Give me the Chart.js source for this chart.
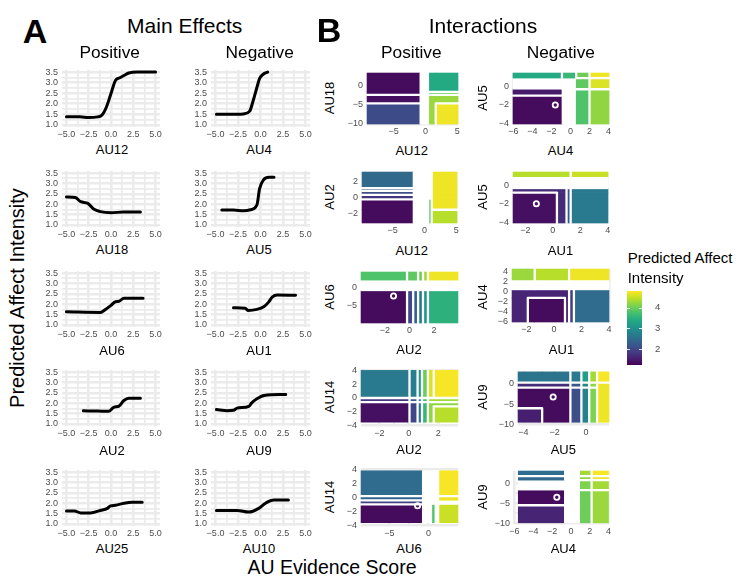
<!DOCTYPE html>
<html>
<head>
<meta charset="utf-8">
<script src="https://cdn.jsdelivr.net/npm/chart.js@4.4.1/dist/chart.umd.min.js"></script>
<style>
  body { margin:0; background:#fff; width:740px; height:584px; position:relative; overflow:hidden;
         font-family:"Liberation Sans", Arial, sans-serif; }
  canvas { position:absolute; }
  .t { position:absolute; transform:translate(-50%,-50%); white-space:nowrap; line-height:1; color:#000; }
  .t.rot { transform:translate(-50%,-50%) rotate(-90deg); }
  .t.left { transform:translate(0,-50%); }
</style>
</head>
<body>
<script>
'use strict';

/* ── Main effects: AU evidence score -> predicted intensity ─────── */
const AU12_X = [-5, -3.5, -2.5, -1.5, -1, -0.5, 0, 0.5, 1, 1.5, 2, 3, 5];
const AU12_Y = [1.38, 1.38, 1.35, 1.38, 1.47, 1.86, 2.49, 3.1, 3.23, 3.35, 3.46, 3.5, 3.5];
const AU4_X  = [-4.9, -2.6, -1.9, -1.2, -0.8, -0.4, -0.1, 0.3, 0.8];
const AU4_Y  = [1.5, 1.5, 1.52, 1.65, 2.17, 2.77, 3.2, 3.4, 3.5];
const AU18_X = [-5, -4, -3.4, -2.6, -1.9, -1.2, 0, 1.4, 3.3];
const AU18_Y = [2.35, 2.32, 2.12, 2.04, 1.75, 1.64, 1.59, 1.62, 1.62];
const AU5_X  = [-4.3, -3, -1.9, -1.1, -0.4, -0.1, 0.37, 0.93, 1.5];
const AU5_Y  = [1.72, 1.72, 1.68, 1.73, 1.96, 2.75, 3.19, 3.3, 3.3];
const AU6_X  = [-5, -1.2, -0.8, 0, 0.5, 0.9, 1.45, 3.6];
const AU6_Y  = [1.63, 1.6, 1.69, 1.94, 2.12, 2.14, 2.29, 2.29];
const AU1_X  = [-3, -1.7, -1.4, -0.4, 0.4, 0.9, 1.3, 1.85, 3.9];
const AU1_Y  = [1.83, 1.8, 1.7, 1.75, 1.89, 2.1, 2.34, 2.44, 2.43];
const AU2_X  = [-3.1, -1.5, -0.25, 0.3, 0.9, 1.45, 2, 3.3];
const AU2_Y  = [1.63, 1.62, 1.61, 1.8, 1.86, 2.13, 2.24, 2.24];
const AU9_X  = [-4.9, -3.7, -3, -2.6, -1.3, -1, -0.4, 0.4, 2.8];
const AU9_Y  = [1.69, 1.64, 1.66, 1.76, 1.85, 2, 2.21, 2.37, 2.42];
const AU25_X = [-5, -4.1, -3.4, -2.3, -1.2, -0.4, -0.05, 0.5, 1.45, 2.4, 3.5];
const AU25_Y = [1.62, 1.62, 1.53, 1.53, 1.65, 1.75, 1.87, 1.9, 2, 2.05, 2.05];
const AU10_X = [-4.9, -2.6, -1.3, -0.2, 0.55, 1.5, 3.1];
const AU10_Y = [1.65, 1.65, 1.57, 1.75, 2, 2.15, 2.15];

/* ── Interactions: cell breaks (x, y) and predicted intensity ───── */
// rows run bottom -> top, null = band packed with contour lines
const P1_XB = [-9.2, -0.9, 0.6, 1.6, 5.1];
const P1_YB = [-10, -4.6, -2.4, -1.6, 3.3];
const P1_Z  = [[2.05, null, 4.25, 4.7], [1.4, null, 4.25, 4.25], [1.35, null, 4.0, 4.0], [1.35, null, 3.4, 3.4]];
const P1_ISLE = [];

const P2_XB = [-6.05, -0.9, 0.6, 2.0, 4.05];
const P2_YB = [-4.05, -1.0, -0.3, 0.9, 1.45];
const P2_Z  = [[1.35, null, 3.8, 4.2], [1.5, null, 3.8, 4.2], [null, null, 3.9, 4.6], [3.4, 3.6, 4.0, 4.7]];
const P2_ISLE = [[-1.6, -2]];

const P3_XB = [-9.8, -1.8, 0.8, 1.0, 1.35, 5.1];
const P3_YB = [-3.15, -1.5, -0.2, 0.35, 0.85, 1.2, 3.2];
const P3_Z  = [[1.35, null, 3.9, null, 4.4], [1.35, null, 3.9, null, 4.7], [1.8, null, null, null, 4.7],
               [2.1, null, null, null, 4.7], [2.3, null, null, null, 4.7], [2.45, null, null, null, 4.7]];
const P3_ISLE = [];

const P4_XB = [-2.9, 0.3, 1.0, 1.3, 4.02];
const P4_YB = [-4.05, -0.8, -0.4, 0.9, 1.4];
const P4_Z  = [[1.4, 1.7, 2.2, 2.7], [1.7, 1.7, 2.2, 2.7], [null, null, null, null], [4.4, 4.4, 4.4, 4.5]];
const P4_ISLE = [[-1.2, -2]];

const P5_XB = [-3.95, -0.2, 0.3, 0.7, 1.1, 1.5, 3.95];
const P5_YB = [-9.6, -0.9, 2.0, 4.2];
const P5_Z  = [[1.35, 2.0, 2.3, 2.7, 3.1, 3.5], [null, null, null, null, null, null], [3.8, 3.9, 3.9, 4.0, 4.3, 4.7]];
const P5_ISLE = [[-1.3, -2.3]];

const P6_XB = [-3.05, -1.9, -1.4, 0.8, 1.1, 1.45, 4.0];
const P6_YB = [-6.05, -1.2, 0.4, 2.4, 4.6];
const P6_Z  = [[1.6, 1.35, 1.35, 1.6, 1.9, 2.5], [1.6, 1.6, 1.6, 1.6, 1.9, 2.5],
               [null, null, null, null, null, null], [4.25, 4.25, 4.4, 4.4, 4.7, 4.7]];
const P6_ISLE = [];

const P7_XB = [-3.25, 0.05, 0.6, 0.9, 1.3, 1.7, 3.35];
const P7_YB = [-3.5, -1.2, -0.6, 0.0, 4.0];
const P7_Z  = [[1.4, 2.0, 2.6, 3.6, 4.2, 4.4], [1.4, 2.0, 2.6, 3.6, 4.2, 4.2],
               [1.8, 2.3, 2.8, 3.7, 4.3, 4.3], [2.7, 2.75, 3.1, 4.0, 4.6, 4.75]];
const P7_ISLE = [];

const P8_XB = [-4.34, -2.8, -1.0, -0.3, 0.2, 0.7, 1.46];
const P8_YB = [-9.4, -6, -1, 0.2, 2.8];
const P8_Z  = [[1.55, 1.35, 2.1, 2.8, 4.1, 4.7], [1.35, 1.35, 2.1, 2.8, 4.1, 4.7],
               [1.7, 1.7, 2.2, 2.9, 4.2, 4.7], [2.6, 2.6, 2.7, 3.2, 4.3, 4.75]];
const P8_ISLE = [[-2.1, -3.3]];

const P9_XB = [-8.6, -0.8, 0.5, 0.8, 1.4, 3.75];
const P9_YB = [-3.63, -1.0, -0.4, 0.2, 3.85];
const P9_Z  = [[1.35, null, 3.8, null, 4.5], [1.9, null, null, null, null],
               [2.4, null, null, null, 4.7], [2.5, null, null, null, 4.75]];
const P9_ISLE = [[-1.4, -1.2]];

const P10_XB = [-5.6, -0.7, 1.0, 2.2, 4.0];
const P10_YB = [-9.9, -5.5, -1.7, 0.8, 1.8, 3.1];
const P10_Z  = [[1.6, null, 4.0, 4.25], [1.35, null, 4.0, 4.25], [null, null, 4.1, 4.3],
                [2.45, null, 4.2, 4.7], [2.5, null, 4.3, 4.75]];
const P10_ISLE = [[-1.5, -3.5]];

/* ── Tick labels ────────────────────────────────────────────────── */
const ME_XTICKS = [-5, -2.5, 0, 2.5, 5];
const ME_YTICKS = [1, 1.5, 2, 2.5, 3, 3.5];
const P1_XT = [-5, 0, 5],  P1_YT = [-10, -5, 0];
const P2_XT = [-6, -4, -2, 0, 2, 4], P2_YT = [-4, -2, 0];
const P3_XT = [-5, 0, 5],  P3_YT = [-2, 0, 2];
const P4_XT = [-2, 0, 2, 4], P4_YT = [-4, -2, 0];
const P5_XT = [-2, 0, 2],  P5_YT = [-5, 0];
const P6_XT = [-2, 0, 2, 4], P6_YT = [-6, -4, -2, 0, 2, 4];
const P7_XT = [-2, 0, 2],  P7_YT = [-4, -2, 0, 2, 4];
const P8_XT = [-4, -2, 0], P8_YT = [-10, -5, 0];
const P9_XT = [-5, 0],     P9_YT = [-4, -2, 0, 2, 4];
const P10_XT = [-6, -4, -2, 0, 2, 4], P10_YT = [-10, -5, 0];

/* ── Colour scale ───────────────────────────────────────────────── */
const CB_MIN = 1.25, CB_MAX = 4.79;
const CB_TICKS = [2, 3, 4];
const VIRIDIS = ['#440154', '#482475', '#414487', '#355f8d', '#2a788e', '#21918c',
                 '#22a884', '#44bf70', '#7ad151', '#bddf26', '#fde725'];

const FONT = '"Liberation Sans", Arial, sans-serif';
const GRID = '#ebebeb';
const TICK_COL = '#4d4d4d';
const PT = 13, PR = 10;   // top padding kept above the label overhang Chart.js reserves

function hex(c) { return [1, 3, 5].map(i => parseInt(c.substr(i, 2), 16)); }
function viridis(v) {
  let t = (v - CB_MIN) / (CB_MAX - CB_MIN);
  t = Math.max(0, Math.min(1, t));
  const f = t * 10, i = Math.min(9, Math.floor(f)), k = f - i;
  const a = hex(VIRIDIS[i]), b = hex(VIRIDIS[i + 1]);
  return 'rgb(' + a.map((x, j) => Math.round(x + (b[j] - x) * k)).join(',') + ')';
}

const minus = s => String(s).replace('-', '\u2212');
function withMinors(majors) {
  const out = [];
  majors.forEach((v, i) => { out.push(v); if (i < majors.length - 1) out.push((v + majors[i + 1]) / 2); });
  return out;
}

/* ── Canvas placement ───────────────────────────────────────────── */
function place(rect, yw, xh, pr) {
  const [l, t, r, b] = rect.map(Math.round);
  const cv = document.createElement('canvas');
  const w = r - l + yw + pr, h = b - t + PT + xh;
  cv.width = w; cv.height = h;
  cv.style.left = (l - yw) + 'px'; cv.style.top = (t - PT) + 'px';
  cv.style.width = w + 'px'; cv.style.height = h + 'px';
  document.body.appendChild(cv);
  return cv;
}

function axis(min, max, majors, fmt, isX, fixed) {
  const all = withMinors(majors).filter(v => v >= min && v <= max);
  return {
    type: 'linear', min, max,
    afterBuildTicks: s => { s.ticks = all.map(v => ({ value: v })); },
    afterFit: s => { if (isX) s.height = fixed; else s.width = fixed; },
    grid: { color: GRID, drawTicks: false,
            lineWidth: c => (c.tick && majors.includes(c.tick.value)) ? 2.6 : 1.7 },
    border: { display: false },
    ticks: { autoSkip: false, maxRotation: 0, color: TICK_COL, padding: isX ? 2 : 4,
             font: { size: 9, family: FONT },
             callback: v => majors.includes(v) ? fmt(v) : '' }
  };
}

function baseOptions(scales, pr) {
  return {
    responsive: false, animation: false, events: [],
    layout: { padding: { top: PT, right: pr, left: 0, bottom: 0 } },
    plugins: { legend: { display: false }, tooltip: { enabled: false } },
    scales
  };
}

/* ── Main effects panels ────────────────────────────────────────── */
const ME_LEFT = [61.5, 210.5], ME_RIGHT = [160, 309.5];
const ME_TOP35 = [72, 172.7, 272.7, 371.7, 471.7];
const ME_PANELS = [
  { xs: AU12_X, ys: AU12_Y, col: 0, row: 0 }, { xs: AU4_X,  ys: AU4_Y,  col: 1, row: 0 },
  { xs: AU18_X, ys: AU18_Y, col: 0, row: 1 }, { xs: AU5_X,  ys: AU5_Y,  col: 1, row: 1 },
  { xs: AU6_X,  ys: AU6_Y,  col: 0, row: 2 }, { xs: AU1_X,  ys: AU1_Y,  col: 1, row: 2 },
  { xs: AU2_X,  ys: AU2_Y,  col: 0, row: 3 }, { xs: AU9_X,  ys: AU9_Y,  col: 1, row: 3 },
  { xs: AU25_X, ys: AU25_Y, col: 0, row: 4 }, { xs: AU10_X, ys: AU10_Y, col: 1, row: 4 }
];

ME_PANELS.forEach(p => {
  const top = ME_TOP35[p.row] - 2.1;
  const cv = place([ME_LEFT[p.col], top, ME_RIGHT[p.col], top + 56.7], 28, 14, PR);
  new Chart(cv, {
    type: 'line',
    data: { datasets: [{
      data: p.xs.map((x, i) => ({ x, y: p.ys[i] })),
      borderColor: '#000', borderWidth: 3, pointRadius: 0,
      cubicInterpolationMode: 'monotone', borderCapStyle: 'round', borderJoinStyle: 'round', fill: false
    }] },
    options: baseOptions({
      x: axis(-5.5, 5.5, ME_XTICKS, v => minus(v.toFixed(1)), true, 14),
      y: axis(0.9, 3.6, ME_YTICKS, v => v.toFixed(1), false, 28)
    }, PR)
  });
});

/* ── Interaction panels ─────────────────────────────────────────── */
function heatLayer(p) {
  return {
    id: 'heat',
    beforeDatasetsDraw(chart) {
      const { ctx, scales: { x, y } } = chart;
      const { xb, yb, z } = p;
      const px = v => x.getPixelForValue(v), py = v => y.getPixelForValue(v);
      ctx.save();
      for (let j = 0; j < z.length; j++) {
        for (let i = 0; i < z[j].length; i++) {
          const v = z[j][i];
          ctx.fillStyle = v == null ? '#fff' : viridis(v);
          ctx.fillRect(px(xb[i]) - 0.3, py(yb[j + 1]) - 0.3,
                       px(xb[i + 1]) - px(xb[i]) + 0.6, py(yb[j]) - py(yb[j + 1]) + 0.6);
        }
      }
      // white contour lines where neighbouring cells differ
      ctx.strokeStyle = '#fff'; ctx.lineWidth = 2.3; ctx.lineCap = 'round';
      ctx.beginPath();
      for (let j = 0; j < z.length; j++) {
        for (let i = 0; i < z[j].length; i++) {
          const v = z[j][i];
          if (v == null) continue;
          const r = z[j][i + 1];
          if (r != null && Math.abs(r - v) > 0.03) {
            ctx.moveTo(px(xb[i + 1]), py(yb[j])); ctx.lineTo(px(xb[i + 1]), py(yb[j + 1]));
          }
          const u = z[j + 1] ? z[j + 1][i] : undefined;
          if (u != null && Math.abs(u - v) > 0.03) {
            ctx.moveTo(px(xb[i]), py(yb[j + 1])); ctx.lineTo(px(xb[i + 1]), py(yb[j + 1]));
          }
        }
      }
      ctx.stroke();
      ctx.restore();
    }
  };
}

const IA_PANELS = [
  { xb: P1_XB, yb: P1_YB, z: P1_Z, isle: P1_ISLE, xt: P1_XT, yt: P1_YT, xr: [-9.2, 5.1],  yr: [-10, 3.3],    rect: [366.7, 72.7, 458.3, 123.7] },
  { xb: P2_XB, yb: P2_YB, z: P2_Z, isle: P2_ISLE, xt: P2_XT, yt: P2_YT, xr: [-6.05, 4.05], yr: [-4.05, 1.45], rect: [512.7, 72.7, 609.3, 123.5] },
  { xb: P3_XB, yb: P3_YB, z: P3_Z, isle: P3_ISLE, xt: P3_XT, yt: P3_YT, xr: [-9.8, 5.1],  yr: [-3.15, 3.2],  rect: [361.7, 172, 457.3, 222.7] },
  { xb: P4_XB, yb: P4_YB, z: P4_Z, isle: P4_ISLE, xt: P4_XT, yt: P4_YT, xr: [-2.9, 4.02], yr: [-4.05, 1.4],  rect: [512.7, 172, 608.3, 222.7] },
  { xb: P5_XB, yb: P5_YB, z: P5_Z, isle: P5_ISLE, xt: P5_XT, yt: P5_YT, xr: [-3.95, 3.95], yr: [-9.6, 4.2],  rect: [361, 271.7, 457.7, 322.7] },
  { xb: P6_XB, yb: P6_YB, z: P6_Z, isle: P6_ISLE, xt: P6_XT, yt: P6_YT, xr: [-3.05, 4.0], yr: [-6.05, 4.6],  rect: [512.3, 269, 609, 321.7] },
  { xb: P7_XB, yb: P7_YB, z: P7_Z, isle: P7_ISLE, xt: P7_XT, yt: P7_YT, xr: [-3.25, 3.35], yr: [-4.05, 4.05], rect: [361, 369.5, 457.7, 425.5] },
  { xb: P8_XB, yb: P8_YB, z: P8_Z, isle: P8_ISLE, xt: P8_XT, yt: P8_YT, xr: [-4.34, 1.46], yr: [-10.05, 3.0], rect: [518.3, 371, 609.3, 424.5] },
  { xb: P9_XB, yb: P9_YB, z: P9_Z, isle: P9_ISLE, xt: P9_XT, yt: P9_YT, xr: [-8.6, 3.75], yr: [-4.1, 4.1],   rect: [361, 469, 457.7, 526] },
  { xb: P10_XB, yb: P10_YB, z: P10_Z, isle: P10_ISLE, xt: P10_XT, yt: P10_YT, xr: [-6.05, 4.05], yr: [-10.2, 3.1], rect: [514, 471, 609.3, 524] }
];

IA_PANELS.forEach(p => {
  const cv = place(p.rect, 24, 14, PR);
  new Chart(cv, {
    type: 'scatter',
    data: { datasets: [{
      data: p.isle.map(([x, y]) => ({ x, y })),
      pointRadius: 2.6, borderColor: '#fff', borderWidth: 1.8, backgroundColor: 'rgba(0,0,0,0)'
    }] },
    options: baseOptions({
      x: axis(p.xr[0], p.xr[1], p.xt, v => minus(v), true, 14),
      y: axis(p.yr[0], p.yr[1], p.yt, v => minus(v), false, 24)
    }, PR),
    plugins: [heatLayer(p)]
  });
});

/* ── Colour bar ─────────────────────────────────────────────────── */
(function () {
  const cv = place([627, 290.7, 642, 365], 0, 13, 22);
  new Chart(cv, {
    type: 'scatter',
    data: { datasets: [{ data: [] }] },
    options: {
      responsive: false, animation: false, events: [],
      layout: { padding: { top: PT, bottom: 0, left: 0, right: 0 } },
      plugins: { legend: { display: false }, tooltip: { enabled: false } },
      scales: {
        x: { type: 'linear', min: 0, max: 1, display: true,
             afterFit: s => { s.height = 13; },
             ticks: { display: false }, grid: { display: false }, border: { display: false } },
        y: { type: 'linear', position: 'right', min: CB_MIN, max: CB_MAX,
             afterBuildTicks: s => { s.ticks = CB_TICKS.map(v => ({ value: v })); },
             afterFit: s => { s.width = 22; },
             grid: { display: false }, border: { display: false },
             ticks: { color: TICK_COL, padding: 5, font: { size: 9.5, family: FONT } } }
      }
    },
    plugins: [{
      id: 'colourBar',
      beforeDatasetsDraw(chart) {
        const { ctx, chartArea: a, scales: { y } } = chart;
        const y0 = y.getPixelForValue(CB_MIN), y1 = y.getPixelForValue(CB_MAX);
        const g = ctx.createLinearGradient(0, y0, 0, y1);
        VIRIDIS.forEach((col, i) => g.addColorStop(i / 10, col));
        ctx.save();
        ctx.fillStyle = g;
        ctx.fillRect(a.left, y1, a.right - a.left, y0 - y1);
        ctx.strokeStyle = 'rgba(255,255,255,0.85)'; ctx.lineWidth = 1;
        CB_TICKS.forEach(v => {
          const py = Math.round(y.getPixelForValue(v)) + 0.5;
          ctx.beginPath();
          ctx.moveTo(a.left, py); ctx.lineTo(a.left + 3, py);
          ctx.moveTo(a.right - 3, py); ctx.lineTo(a.right, py);
          ctx.stroke();
        });
        ctx.restore();
      }
    }]
  });
})();

/* ── Text ───────────────────────────────────────────────────────── */
const TEXTS = [
  ['A', 35, 30.5, 34, 700], ['Main Effects', 184.7, 25, 21], ['Positive', 109.7, 52.5, 17.3], ['Negative', 259.7, 52.5, 17.3],
  ['B', 329, 30, 34, 700], ['Interactions', 483, 25, 21], ['Positive', 411.3, 52.5, 17.3], ['Negative', 560.8, 52.5, 17.3],
  ['AU12', 112, 149, 13], ['AU4', 259, 149, 13], ['AU18', 112, 249, 13], ['AU5', 259, 249, 13],
  ['AU6', 112, 350, 13], ['AU1', 259, 350, 13], ['AU2', 112, 450, 13], ['AU9', 259, 450, 13],
  ['AU25', 112, 548, 13], ['AU10', 259, 548, 13],
  ['AU12', 411.7, 150, 13], ['AU4', 560.5, 150, 13], ['AU12', 411.7, 250, 13], ['AU1', 560.5, 250, 13],
  ['AU2', 409, 349, 13], ['AU1', 561.5, 349, 13], ['AU2', 409, 449, 13], ['AU5', 563.3, 449, 13],
  ['AU6', 409, 548, 13], ['AU4', 563.3, 548, 13],
  ['AU18', 329, 97.5, 13, 400, 'rot'], ['AU5', 481.5, 97.5, 13, 400, 'rot'],
  ['AU2', 329, 197, 13, 400, 'rot'],  ['AU5', 481.5, 197, 13, 400, 'rot'],
  ['AU6', 329, 297, 13, 400, 'rot'],  ['AU4', 481.5, 297, 13, 400, 'rot'],
  ['AU14', 329, 397, 13, 400, 'rot'], ['AU9', 481.5, 397, 13, 400, 'rot'],
  ['AU14', 329, 497, 13, 400, 'rot'], ['AU9', 481.5, 497, 13, 400, 'rot'],
  ['Predicted Affect Intensity', 17, 298, 20, 400, 'rot'],
  ['AU Evidence Score', 332, 568, 19.5],
  ['Predicted Affect', 627.7, 257, 15, 400, 'left'], ['Intensity', 627.7, 277, 15, 400, 'left']
];
TEXTS.forEach(([s, x, y, size, weight, cls]) => {
  const d = document.createElement('div');
  d.className = 't' + (cls ? ' ' + cls : '');
  d.textContent = s;
  d.style.left = x + 'px'; d.style.top = y + 'px';
  d.style.fontSize = size + 'px'; d.style.fontWeight = weight || 400;
  document.body.appendChild(d);
});
</script>
</body>
</html>
